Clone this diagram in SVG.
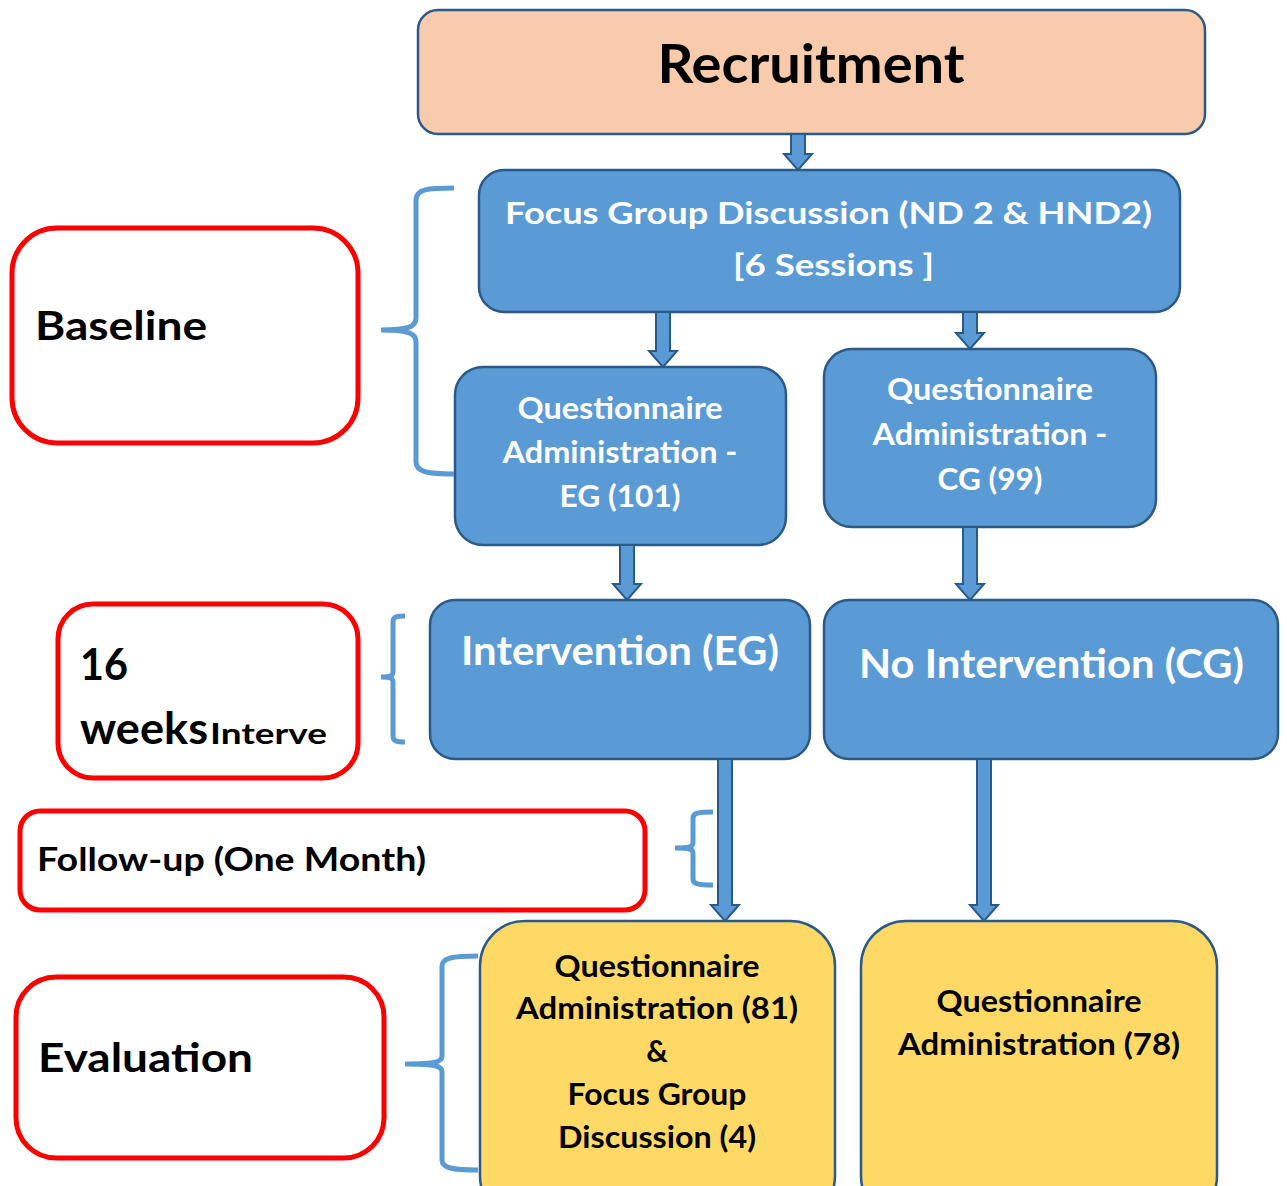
<svg xmlns="http://www.w3.org/2000/svg" width="1287" height="1186" viewBox="0 0 1287 1186">
<style>
text{font-family:Lato,"Open Sans","Liberation Sans",sans-serif;font-weight:bold}
.blue{fill:#5B9BD5;stroke:#2B5A88;stroke-width:2.5}
.peach{fill:#F8CBAD;stroke:#2B5A88;stroke-width:2.5}
.yellow{fill:#FFD966;stroke:#2B5A88;stroke-width:2.5}
.red{fill:#fff;stroke:#FF0000;stroke-width:5}
.brace{fill:none;stroke:#5B9BD5;stroke-width:5}
.wt{fill:#fff;text-anchor:middle}
.bt{fill:#000;text-anchor:middle}
.lt{fill:#000}
.arr{fill:#5B9BD5;stroke:#2B5A88;stroke-width:2}
</style>
<rect width="1287" height="1186" fill="#fff"/>
<g id="recruitment">
<rect class="peach" x="418" y="10" width="787" height="124" rx="20"/>
<text class="bt" x="811" y="83" font-size="54" textLength="307" lengthAdjust="spacingAndGlyphs">Recruitment</text>
</g>
<g id="focus-group">
<rect class="blue" x="479" y="170" width="701" height="142" rx="25"/>
<text class="wt" x="828.5" y="224" font-size="31" textLength="647" lengthAdjust="spacingAndGlyphs">Focus Group Discussion (ND 2 &amp; HND2)</text>
<text class="wt" x="833.5" y="276" font-size="31" textLength="201" lengthAdjust="spacingAndGlyphs">[6 Sessions ]</text>
</g>
<g id="qa-eg">
<rect class="blue" x="455" y="367" width="331" height="178" rx="28"/>
<text class="wt" x="620" y="419" font-size="30" textLength="205" lengthAdjust="spacingAndGlyphs">Questionnaire</text>
<text class="wt" x="620" y="463" font-size="30" textLength="235" lengthAdjust="spacingAndGlyphs">Administration -</text>
<text class="wt" x="620" y="507" font-size="30" textLength="121" lengthAdjust="spacingAndGlyphs">EG (101)</text>
</g>
<g id="qa-cg">
<rect class="blue" x="824" y="349" width="332" height="178" rx="28"/>
<text class="wt" x="990" y="400" font-size="30" textLength="206" lengthAdjust="spacingAndGlyphs">Questionnaire</text>
<text class="wt" x="990" y="445" font-size="30" textLength="235" lengthAdjust="spacingAndGlyphs">Administration -</text>
<text class="wt" x="990" y="490" font-size="30" textLength="105" lengthAdjust="spacingAndGlyphs">CG (99)</text>
</g>
<g id="intervention-eg">
<rect class="blue" x="430" y="600" width="380" height="159" rx="25"/>
<text class="wt" x="620" y="665" font-size="40" textLength="318" lengthAdjust="spacingAndGlyphs">Intervention (EG)</text>
</g>
<g id="no-intervention-cg">
<rect class="blue" x="824" y="600" width="454" height="159" rx="25"/>
<text class="wt" x="1051.5" y="678" font-size="40" textLength="385" lengthAdjust="spacingAndGlyphs">No Intervention (CG)</text>
</g>
<g id="eval-eg">
<rect class="yellow" x="480" y="921" width="355" height="300" rx="45"/>
<text class="bt" x="657" y="977" font-size="30" textLength="205" lengthAdjust="spacingAndGlyphs">Questionnaire</text>
<text class="bt" x="657" y="1019" font-size="30" textLength="282" lengthAdjust="spacingAndGlyphs">Administration (81)</text>
<text class="bt" x="657" y="1062" font-size="30">&amp;</text>
<text class="bt" x="657" y="1105" font-size="30" textLength="179" lengthAdjust="spacingAndGlyphs">Focus Group</text>
<text class="bt" x="657" y="1148" font-size="30" textLength="198" lengthAdjust="spacingAndGlyphs">Discussion (4)</text>
</g>
<g id="eval-cg">
<rect class="yellow" x="861" y="921" width="356" height="300" rx="45"/>
<text class="bt" x="1039" y="1012" font-size="30" textLength="205" lengthAdjust="spacingAndGlyphs">Questionnaire</text>
<text class="bt" x="1039" y="1055" font-size="30" textLength="282" lengthAdjust="spacingAndGlyphs">Administration (78)</text>
</g>
<g id="label-baseline">
<rect class="red" x="12" y="228" width="346" height="215" rx="45"/>
<text class="lt" x="35" y="340" font-size="41" textLength="172" lengthAdjust="spacingAndGlyphs">Baseline</text>
</g>
<g id="label-16weeks">
<rect class="red" x="58" y="604" width="300" height="174" rx="35"/>
<text class="lt" x="80" y="680" font-size="44" textLength="48" lengthAdjust="spacingAndGlyphs">16</text>
<text class="lt" x="80" y="744" font-size="44" textLength="128" lengthAdjust="spacingAndGlyphs">weeks</text>
<text class="lt" x="210" y="744" font-size="28" textLength="117" lengthAdjust="spacingAndGlyphs">Interve</text>
</g>
<g id="label-followup">
<rect class="red" x="20" y="811" width="625" height="99" rx="20"/>
<text class="lt" x="37" y="871" font-size="32" textLength="389" lengthAdjust="spacingAndGlyphs">Follow-up (One Month)</text>
</g>
<g id="label-evaluation">
<rect class="red" x="16" y="977" width="368" height="181" rx="40"/>
<text class="lt" x="38" y="1072" font-size="41" textLength="215" lengthAdjust="spacingAndGlyphs">Evaluation</text>
</g>
<g id="braces">
<path class="brace" d="M454,188 C428,188 416,189 416,200 L416,318 C416,327 408,330 381,330 C408,330 416,333 416,342 L416,462 C416,472 428,474 454,474"/>
<path class="brace" d="M405,616 C396,616 393,617 393,622 L393,672 C393,676 390,677 381,677 C390,677 393,678 393,682 L393,736 C393,741 396,742 405,742"/>
<path class="brace" d="M713,812 C698,812 693,813 693,818 L693,843 C693,847 690,848 675,848 C690,848 693,849 693,853 L693,879 C693,884 698,885 713,885"/>
<path class="brace" d="M478,956 C452,956 442,958 442,966 L442,1056 C442,1062 436,1064 405,1064 C436,1064 442,1066 442,1072 L442,1160 C442,1168 452,1170 478,1170"/>
</g>
<g id="connectors">
<polygon class="arr" points="791,134 805,134 805,154 812,154 798,170 784,154 791,154"/>
<polygon class="arr" points="656,312 670,312 670,351 677,351 663,367 649,351 656,351"/>
<polygon class="arr" points="963,312 977,312 977,333 984,333 970,349 956,333 963,333"/>
<polygon class="arr" points="620,545 634,545 634,584 641,584 627,600 613,584 620,584"/>
<polygon class="arr" points="963,527 977,527 977,584 984,584 970,600 956,584 963,584"/>
<polygon class="arr" points="718,759 732,759 732,905 739,905 725,921 711,905 718,905"/>
<polygon class="arr" points="977,759 991,759 991,905 998,905 984,921 970,905 977,905"/>
</g>
</svg>
